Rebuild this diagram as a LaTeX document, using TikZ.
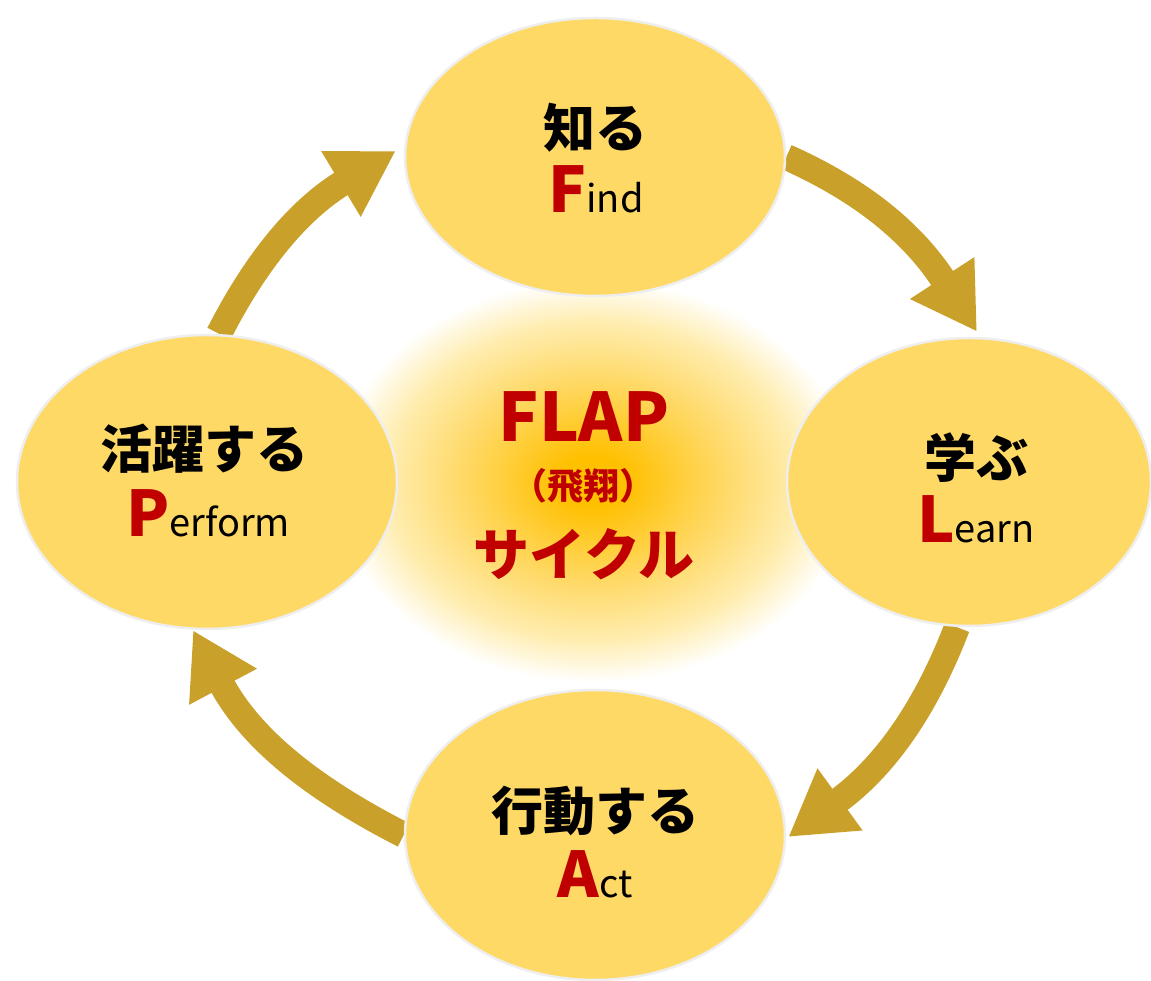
\documentclass[tikz,border=0pt]{standalone}
\usepackage{fontspec}
\setmainfont{Noto Sans CJK JP}
\usetikzlibrary{shapes.geometric,arrows.meta}
\definecolor{blobfill}{HTML}{FFD966}
\definecolor{blobline}{HTML}{EEEEEE}
\definecolor{arrowc}{HTML}{C9A02A}
\definecolor{redt}{HTML}{C00000}
\definecolor{glowA}{HTML}{FFC000}
\definecolor{glowB}{HTML}{FFD966}
\definecolor{glowC}{HTML}{FFEDB0}
\pgfdeclareradialshading{glow}{\pgfpoint{0bp}{0bp}}{color(0bp)=(glowA); color(3bp)=(glowA); color(12bp)=(glowB); color(19bp)=(glowC); color(24bp)=(white); color(50bp)=(white)}
\pgfdeclarelayer{glowlayer}
\pgfdeclarelayer{arrowlayer}
\pgfsetlayers{glowlayer,arrowlayer,main}
\newcommand\flapini[1]{{\color{redt}\bfseries\fontsize{63}{70}\selectfont #1}}
\newcommand\flaprest[1]{{\fontsize{38}{44}\selectfont #1}}
\begin{document}
\begin{tikzpicture}[x=1pt,y=1pt,
  blob/.style={ellipse, fill=blobfill, draw=blobline, line width=2.5pt, inner sep=0pt},
  cyc/.style={draw=arrowc, line width=26pt, -{Triangle[length=64pt,width=72pt]}},
  jp/.style={font=\bfseries\fontsize{52}{60}\selectfont, anchor=base, inner sep=0pt},
  en/.style={anchor=base, inner sep=0pt},
  ctr/.style={anchor=base, inner sep=0pt, text=redt}]
\useasboundingbox (0,0) rectangle (1151,981);
\begin{pgfonlayer}{glowlayer}
\shade[shading=glow] (593,500) ellipse [x radius=270, y radius=210];
\end{pgfonlayer}
\node[blob, minimum width=380pt, minimum height=278pt] (find) at (595,824) {};
\node[blob, minimum width=364pt, minimum height=288pt] (learn) at (969,499) {};
\node[blob, minimum width=380pt, minimum height=290pt] (act) at (595,146) {};
\node[blob, minimum width=380pt, minimum height=294pt] (perform) at (207,499) {};
\begin{pgfonlayer}{arrowlayer}
\draw[cyc] (find.east) to[out=-24,in=123] ([shift={(8,5)}]learn.north);
\draw[cyc] ([xshift=-12pt]learn.south) to[out=-111,in=36] ([shift={(2,-2)}]act.east);
\draw[cyc] (act.west) to[out=153,in=-62] ([shift={(-14,0)}]perform.south);
\draw[cyc] ([xshift=12pt]perform.north) to[out=63,in=-149] ([shift={(-8,6)}]find.west);
\end{pgfonlayer}
\node[jp] (findjp) at (595,833) {知る};
\node[en] (finden) at (596,768) {\flapini{F}\flaprest{ind}};
\node[jp] (learnjp) at (976,503) {学ぶ};
\node[en] (learnen) at (976,438) {\flapini{L}\flaprest{earn}};
\node[jp] (perfjp) at (204,512) {活躍する};
\node[en] (perfen) at (208,444) {\flapini{P}\flaprest{erform}};
\node[jp] (actjp) at (595,150) {行動する};
\node[en] (acten) at (595,83) {\flapini{A}\flaprest{ct}};
\node[ctr, font=\bfseries\fontsize{67}{72}\selectfont] (flap) at (584,539) {FLAP};
\node[ctr, font=\bfseries\fontsize{36}{40}\selectfont] (hisho) at (583,481) {（飛翔）};
\node[ctr, font=\bfseries\fontsize{56}{62}\selectfont] (cycle) at (584,405) {サイクル};
\end{tikzpicture}
\end{document}
